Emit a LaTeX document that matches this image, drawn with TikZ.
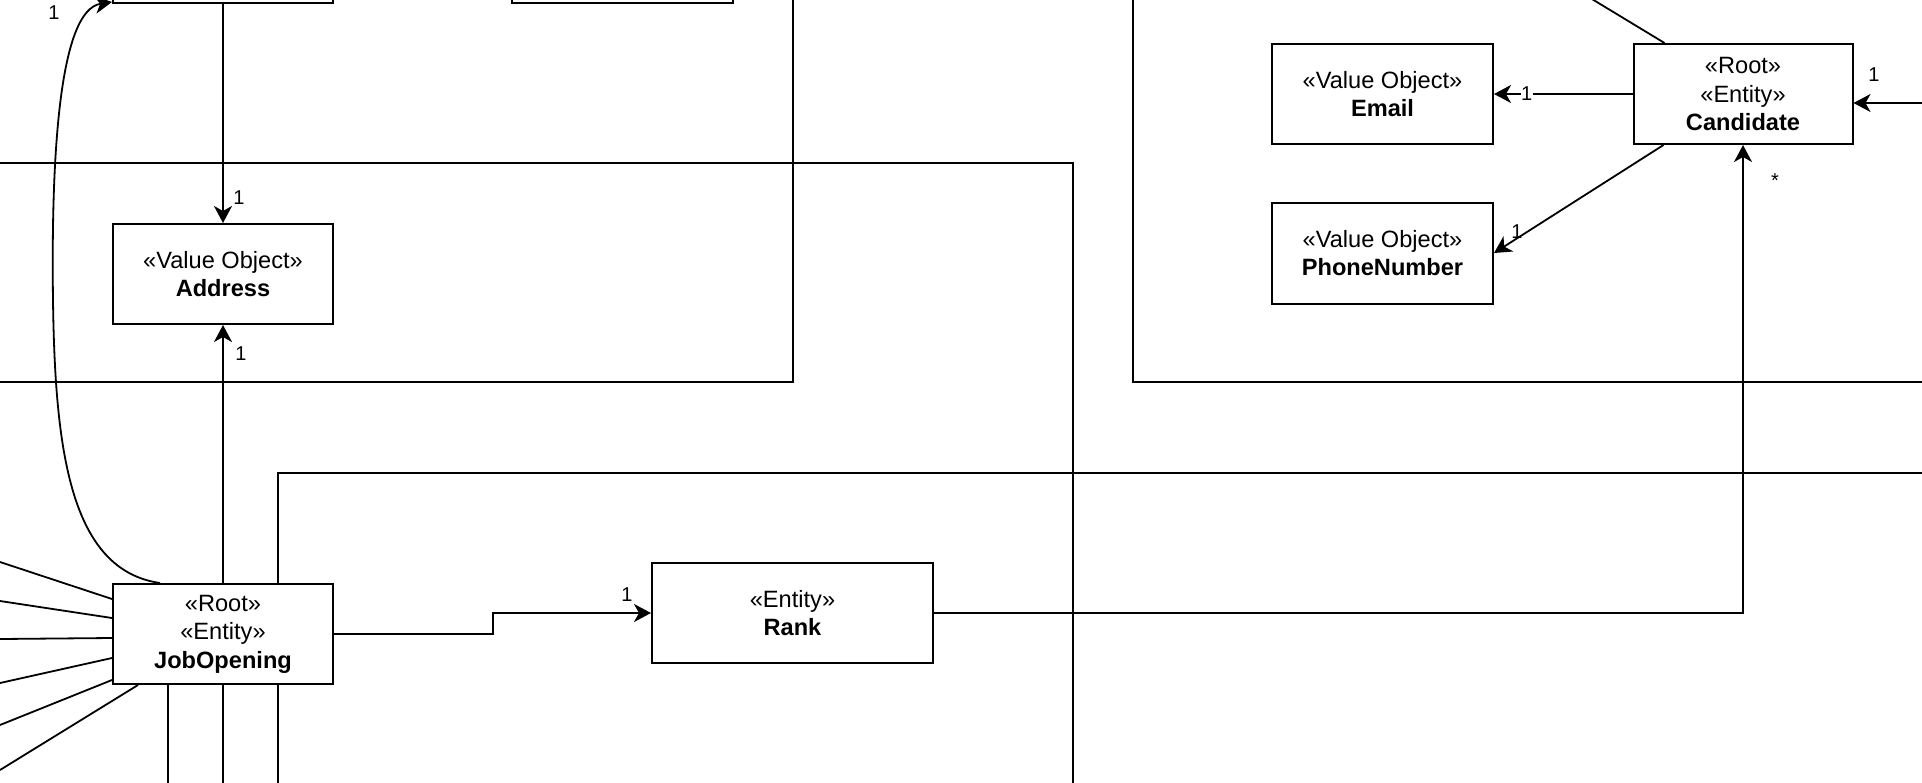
\documentclass[tikz,border=0pt]{standalone}
\usepackage{fontspec}
\setmainfont{Liberation Sans}
\usetikzlibrary{arrows.meta}
\begin{document}
\begin{tikzpicture}[x=1pt,y=-1pt,
  box/.style={draw, line width=2pt, fill=white, inner sep=0pt, align=center,
    minimum width=220pt, minimum height=100pt, font=\fontsize{23.6}{28.5}\selectfont},
  frame/.style={line width=1.8pt},
  conn/.style={line width=1.8pt},
  arr/.style={conn, -{Stealth[length=17pt,width=18pt,inset=5pt]}},
  mult/.style={font=\fontsize{20}{22}\selectfont, inner sep=1pt}
]
\useasboundingbox (0,0) rectangle (1922,782);
\clip (0,0) rectangle (1922,782);
% package frames
\draw[frame] (-50,-50) rectangle (793,382);
\draw[frame] (-50,163) rectangle (1073,900);
\draw[frame] (1133,-50) rectangle (2000,382);
\draw[frame] (278,473) rectangle (2000,900);
% nodes
\node[box] (tb1) at (223,-47) {};
\node[box, minimum width=221pt] (tb2) at (622.5,-47) {};
\node[box] (addr) at (223,274) {«Value Object»\\\textbf{Address}};
\node[box] (job) at (223,634) {«Root»\\«Entity»\\\textbf{JobOpening}};
\node[box, minimum width=281pt] (rank) at (792.5,613) {«Entity»\\\textbf{Rank}};
\node[box, minimum width=221pt] (email) at (1382.5,94) {«Value Object»\\\textbf{Email}};
\node[box, minimum width=221pt, minimum height=101pt] (phone) at (1382.5,253) {«Value Object»\\\textbf{PhoneNumber}};
\node[box, minimum width=219pt] (cand) at (1743,94) {«Root»\\«Entity»\\\textbf{Candidate}};
% free ends
\coordinate (f1) at (0,562);
\coordinate (f2) at (0,601);
\coordinate (f3) at (0,639);
\coordinate (f4) at (0,683);
\coordinate (f5) at (0,725);
\coordinate (f6) at (0,770);
\coordinate (d1) at (168,800);
\coordinate (d2) at (223,800);
\coordinate (topin) at (1511,-50);
\coordinate (rightin) at (1960,103);
% connectors
\draw[arr] (tb1.south) -- (addr.north);
\draw[arr] (job.north) -- (addr.south);
\draw[arr] ([xshift=-63pt]job.north) .. controls (70,570) and (55,450) .. (53,300)
  .. controls (51,150) and (60,10) .. ([yshift=2pt]tb1.south west);
\draw[arr] (job.east) -- ++(159,0) |- (rank.west);
\draw[arr] (rank.east) -| (cand.south);
\draw[arr] (cand.west) -- (email.east) node[mult, pos=0.764, fill=white, inner sep=0.5pt] (lemail) {1};
\draw[arr] ([xshift=31pt]cand.south west) -- (phone.east);
\draw[conn] (topin) -- ([xshift=32pt]cand.north west);
\draw[arr] (rightin) -- (cand.east |- rightin);
\draw[conn] (f1) -- ([yshift=35pt]job.west);
\draw[conn] (f2) -- ([yshift=16pt]job.west);
\draw[conn] (f3) -- ([yshift=-4pt]job.west);
\draw[conn] (f4) -- ([yshift=-24pt]job.west);
\draw[conn] (f5) -- ([yshift=-46pt]job.west);
\draw[conn] (f6) -- ([xshift=26pt]job.south west);
\draw[conn] ([xshift=-55pt]job.south) -- (d1);
\draw[conn] (job.south) -- (d2);
% multiplicities
\node[mult] (l1) at (239,198) {1};
\node[mult] (l2) at (241,354) {1};
\node[mult] (l3) at (54,13) {1};
\node[mult] (l4) at (627,595) {1};
\node[mult] (l5) at (1517,232) {1};
\node[mult] (l6) at (1874,75) {1};
\node[mult] (l7) at (1775,181) {*};
\end{tikzpicture}
\end{document}
